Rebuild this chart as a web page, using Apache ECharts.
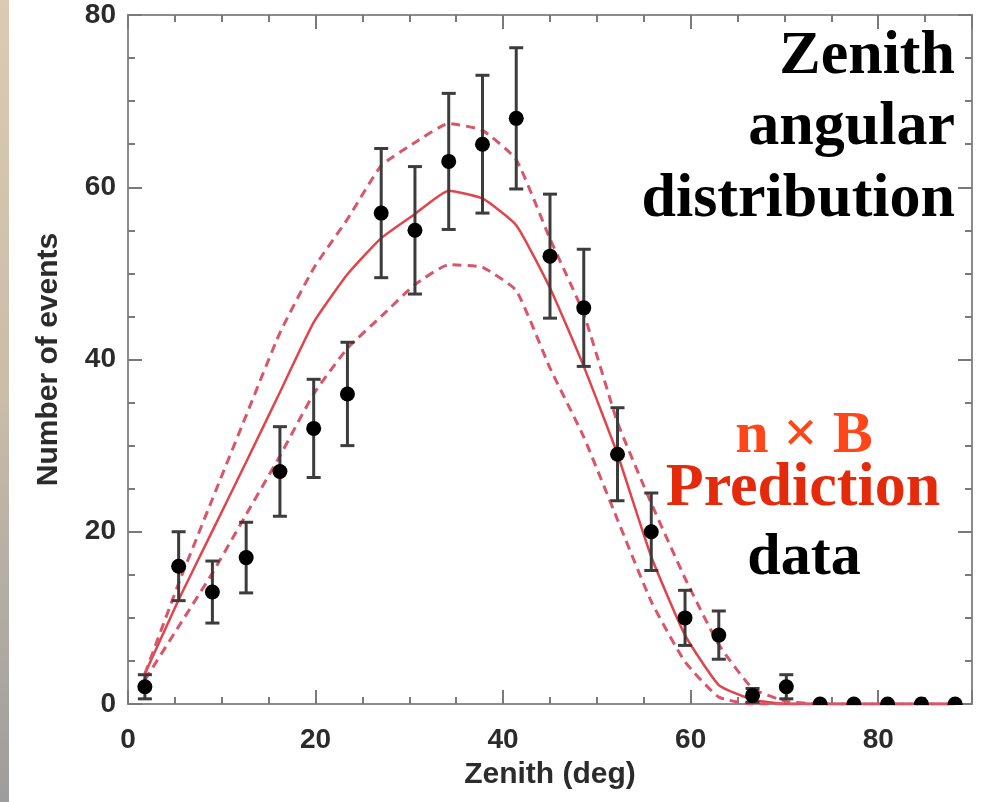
<!DOCTYPE html>
<html>
<head>
<meta charset="utf-8">
<script src="https://cdn.jsdelivr.net/npm/echarts@6/dist/echarts.min.js"></script>
<style>
  html, body { margin: 0; padding: 0; background: #fff; }
  #chart { width: 990px; height: 802px; }
</style>
</head>
<body>
<div id="chart"></div>
<script>
// bin centres (deg)
const zenith = [1.8, 5.4, 9.0, 12.6, 16.2, 19.8, 23.4, 27.0, 30.6, 34.2, 37.8, 41.4, 45.0,
  48.6, 52.2, 55.8, 59.4, 63.0, 66.6, 70.2, 73.8, 77.4, 81.0, 84.6, 88.2]
// measured events and their errors
const counts = [2, 16, 13, 17, 27, 32, 36, 57, 55, 63, 65, 68, 52, 46, 29, 20, 10, 8, 1, 2, 0, 0, 0, 0, 0]
const errors = [1.4, 4, 3.6, 4.1, 5.2, 5.7, 6, 7.5, 7.4, 7.9, 8, 8.2, 7.2, 6.8, 5.4, 4.5, 3.2, 2.8, 0.8, 1.4, 0, 0, 0, 0, 0]
// n x B prediction and its band
const predMid = [3.5, 12.1, 20.1, 28.1, 36.2, 44.3, 49.9, 54.1, 56.9, 59.6, 58.7, 55.6, 48.3,
  39.2, 29.0, 17.1, 8.0, 2.2, 0.5, 0, 0, 0, 0, 0, 0]
const predHigh = [3.5, 14.0, 23.8, 33.5, 43.1, 50.6, 56.3, 62.5, 65.2, 67.4, 66.6, 63.2, 54.0,
  45.3, 32.7, 23.3, 14.6, 6.9, 1.8, 0.3, 0, 0, 0, 0, 0]
const predLow = [2.8, 9.0, 15.2, 22.0, 28.8, 36.0, 41.3, 45.0, 48.7, 51.0, 50.7, 48.0, 39.0,
  31.0, 21.4, 11.9, 4.9, 0.8, 0, 0, 0, 0, 0, 0, 0]

const xTicks = { min: 0, max: 90, interval: 20 }
const yTicks = { min: 0, max: 80, interval: 20 }

const chart = echarts.init(document.getElementById('chart'))

const axisGray = '#8c8c8c'
const sans = 'Liberation Sans, Arial, sans-serif'
const serif = 'Liberation Serif, Times New Roman, serif'
const labelFont = { color: '#2b2b2b', fontSize: 28, fontWeight: 'bold', fontFamily: sans }

function axisBase(extra) {
  return Object.assign({
    type: 'value',
    axisLine: { show: true, onZero: false, lineStyle: { color: axisGray, width: 2 } },
    axisTick: { show: true, inside: true, length: 14, lineStyle: { color: '#7a7a7a', width: 2 } },
    minorTick: { show: true, splitNumber: 4, length: 7, lineStyle: { color: '#7a7a7a', width: 2 } },
    splitLine: { show: false },
  }, extra)
}

const pts = zenith.map((x, i) => [x, counts[i] - errors[i], counts[i] + errors[i], counts[i]])
const line = arr => zenith.map((x, i) => [x, arr[i]])

chart.setOption({
  animation: false,
  grid: { left: 128, right: 18, top: 15, bottom: 98 },
  xAxis: [
    axisBase(Object.assign({
      position: 'bottom',
      name: 'Zenith (deg)',
      nameLocation: 'middle',
      nameGap: 56,
      nameTextStyle: { color: '#2b2b2b', fontSize: 30, fontWeight: 'bold', fontFamily: sans },
      axisLabel: Object.assign({ margin: 22, showMaxLabel: false }, labelFont),
    }, xTicks)),
    axisBase(Object.assign({ position: 'top', axisLabel: { show: false } }, xTicks)),
  ],
  yAxis: [
    axisBase(Object.assign({
      position: 'left',
      name: 'Number of events',
      nameLocation: 'middle',
      nameGap: 64,
      nameTextStyle: { color: '#2b2b2b', fontSize: 30, fontWeight: 'bold', fontFamily: sans },
      axisLabel: Object.assign({ margin: 12 }, labelFont),
    }, yTicks)),
    axisBase(Object.assign({ position: 'right', axisLabel: { show: false } }, yTicks)),
  ],
  graphic: [
    {
      type: 'rect', left: 0, top: 0, z: 100,
      shape: { width: 9, height: 802 },
      style: {
        fill: new echarts.graphic.LinearGradient(0, 0, 0, 1, [
          { offset: 0, color: '#dccbb2' },
          { offset: 0.5, color: '#c9bca9' },
          { offset: 1, color: '#9d9d9d' },
        ]),
      },
    },
    { type: 'text', x: 955, y: 57, z: 100, style: { text: 'Zenith', align: 'right', verticalAlign: 'middle', font: 'bold 62px ' + serif, fill: '#000' } },
    { type: 'text', x: 955, y: 128, z: 100, style: { text: 'angular', align: 'right', verticalAlign: 'middle', font: 'bold 62px ' + serif, fill: '#000' } },
    { type: 'text', x: 955, y: 200, z: 100, style: { text: 'distribution', align: 'right', verticalAlign: 'middle', font: 'bold 62px ' + serif, fill: '#000' } },
    { type: 'text', x: 804, y: 436, z: 100, style: { text: 'n × B', align: 'center', verticalAlign: 'middle', font: 'bold 60px ' + serif, fill: '#ff4618', shadowBlur: 6, shadowColor: 'rgba(0,0,0,0.35)', shadowOffsetX: 2, shadowOffsetY: 3 } },
    { type: 'text', x: 803, y: 489, z: 100, style: { text: 'Prediction', align: 'center', verticalAlign: 'middle', font: 'bold 62px ' + serif, fill: '#e42a0a' } },
    { type: 'text', x: 804, y: 558, z: 100, style: { text: 'data', align: 'center', verticalAlign: 'middle', font: 'bold 60px ' + serif, fill: '#000' } },
  ],
  series: [
    {
      name: 'prediction',
      type: 'line',
      data: line(predMid),
      smooth: 0.15,
      showSymbol: false,
      lineStyle: { color: '#e0454c', width: 2.5 },
      z: 3,
    },
    {
      name: 'upper',
      type: 'line',
      data: line(predHigh),
      smooth: 0.15,
      showSymbol: false,
      lineStyle: { color: '#d9566a', width: 3, type: [9, 6] },
      z: 3,
    },
    {
      name: 'lower',
      type: 'line',
      data: line(predLow),
      smooth: 0.15,
      showSymbol: false,
      lineStyle: { color: '#d9566a', width: 3, type: [9, 6] },
      z: 3,
    },
    {
      name: 'data',
      type: 'custom',
      z: 4,
      data: pts,
      renderItem: function (params, api) {
        const x = api.value(0)
        const top = api.coord([x, api.value(2)])
        const bot = api.coord([x, api.value(1)])
        const c = api.coord([x, api.value(3)])
        const cap = 7
        const st = { stroke: '#3c3c3c', lineWidth: 3 }
        const cs = params.coordSys
        const children = []
        if (bot[1] - top[1] > 2) {
          children.push({ type: 'line', shape: { x1: top[0], y1: top[1], x2: bot[0], y2: bot[1] }, style: st })
          children.push({ type: 'line', shape: { x1: top[0] - cap, y1: top[1], x2: top[0] + cap, y2: top[1] }, style: st })
          children.push({ type: 'line', shape: { x1: bot[0] - cap, y1: bot[1], x2: bot[0] + cap, y2: bot[1] }, style: st })
        }
        children.push({ type: 'circle', shape: { cx: c[0], cy: c[1], r: 7.5 }, style: { fill: '#000' } })
        return {
          type: 'group',
          clipPath: { type: 'rect', shape: { x: cs.x, y: cs.y, width: cs.width, height: cs.height + 1 } },
          children: children,
        }
      },
    },
  ],
})
</script>
</body>
</html>
